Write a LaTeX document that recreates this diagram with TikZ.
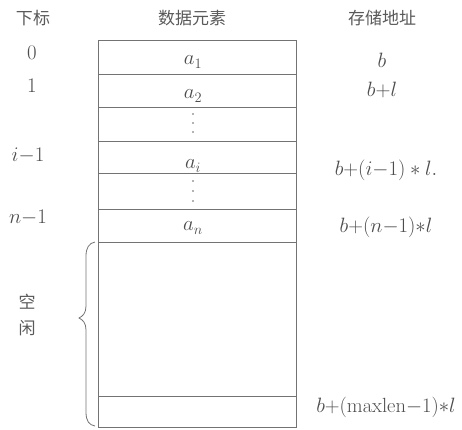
\documentclass[tikz,border=0pt]{standalone}
\usepackage{fontspec}
\newfontfamily\cjk{Noto Sans CJK SC}[Scale=1]
\begin{document}
\begin{tikzpicture}[x=1pt,y=-1pt,
  line/.style={draw=black!55, line width=0.8pt},
  cell/.style={line, minimum width=198pt, inner sep=0pt, anchor=north west},
  lbl/.style={text=black!70, font=\fontsize{20.5}{20.5}\selectfont, inner sep=0pt},
  head/.style={text=black!65, font=\cjk\fontsize{17}{17}\selectfont, inner sep=0pt},
  vd/.style={fill=black!60, circle, inner sep=0pt, minimum size=1.6pt}]
\useasboundingbox (0,0) rectangle (462,429);
% headers
\node[head] (h1) at (33,18) {下标};
\node[head] (h2) at (192,18) {数据元素};
\node[head] (h3) at (382,18) {存储地址};
% cells
\node[cell, minimum height=34pt] (r1) at (98,40) {};
\node[cell, minimum height=33pt] (r2) at (98,74) {};
\node[cell, minimum height=34pt] (r3) at (98,107) {};
\node[cell, minimum height=32pt] (r4) at (98,141) {};
\node[cell, minimum height=36pt] (r5) at (98,173) {};
\node[cell, minimum height=33pt] (r6) at (98,209) {};
\node[cell, minimum height=154pt] (r7) at (98,242) {};
\node[cell, minimum height=31pt] (r8) at (98,396) {};
% cell contents
\node[lbl] (e1) at (193,62) {$a_1$};
\node[lbl] (e2) at (193,96) {$a_2$};
\node[lbl] (e4) at (193,166) {$a_i$};
\node[lbl] (e6) at (193,228) {$a_n$};
\foreach \y [count=\k] in {114,123,132} \node[vd] (d1\k) at (193,\y) {};
\foreach \y [count=\k] in {181,191,201} \node[vd] (d2\k) at (193,\y) {};
% index labels
\node[lbl] (i0) at (32,53) {$0$};
\node[lbl] (i1) at (32,86) {$1$};
\node[lbl] (i2) at (28,156) {$i{-}1$};
\node[lbl] (i3) at (28,218) {$n{-}1$};
\node[head] (k1) at (27,302) {空};
\node[head] (k2) at (27,328) {闲};
% addresses
\node[lbl] (p0) at (382,60) {$b$};
\node[lbl] (p1) at (382,90) {$b{+}l$};
\node[lbl] (p2) at (386,170) {$b$+$(i{-}1)*l.$};
\node[lbl] (p3) at (386,227) {$b$+$(n{-}1){*}l$};
\node[lbl] (p4) at (386,407) {$b$+(maxlen$-$1)${*}l$};
% brace
\draw[line] (r7.north west) ++(-3,0) .. controls +(-6,1) and +(0,-8) .. ++(-9,14)
  -- (86,306) .. controls (86,313) and (83,316) .. (79,318)
  .. controls (83,320) and (86,323) .. (86,330)
  -- (86,412) .. controls (86,421) and (89,425) .. (95,426);
\end{tikzpicture}
\end{document}
